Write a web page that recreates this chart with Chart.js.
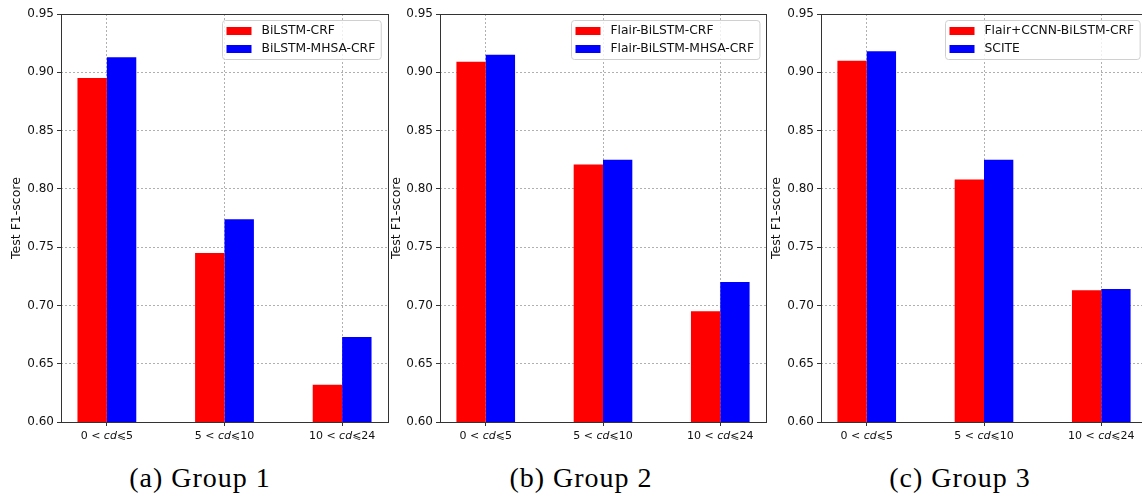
<!DOCTYPE html>
<html>
<head>
<meta charset="utf-8">
<script src="https://cdn.jsdelivr.net/npm/chart.js@4.4.0/dist/chart.umd.min.js"></script>
<style>
html, body { margin: 0; padding: 0; background: #fff; overflow: hidden; width: 1142px; height: 496px; }
.panel { position: absolute; top: 0; }
.caption { position: absolute; top: 461px; width: 300px; margin-left: -150px; text-align: center;
  font: 28px 'Liberation Serif', serif; letter-spacing: 1px; color: #000; line-height: 34px; }
</style>
</head>
<body>
<div class="panel" style="left:0px"><canvas id="c1" width="390" height="440"></canvas></div>
<div class="panel" style="left:380px"><canvas id="c2" width="390" height="440"></canvas></div>
<div class="panel" style="left:760px"><canvas id="c3" width="390" height="440"></canvas></div>
<div class="caption" id="cap1" style="left:200px"></div>
<div class="caption" id="cap2" style="left:581px"></div>
<div class="caption" id="cap3" style="left:960px"></div>
<script>
Chart.defaults.font.family = "'DejaVu Sans', sans-serif";
Chart.defaults.color = '#111';

// shared axis setup
var categories = ['0 < cd⩽5', '5 < cd⩽10', '10 < cd⩽24'];
var yMin = 0.60, yMax = 0.95, yStep = 0.05;
var yTitle = 'Test F1-score';
var captions = ['(a) Group 1', '(b) Group 2', '(c) Group 3'];

// group 1
var g1Names = ['BiLSTM-CRF', 'BiLSTM-MHSA-CRF'];
var g1Red = [0.895, 0.745, 0.632];
var g1Blue = [0.913, 0.774, 0.673];

// group 2
var g2Names = ['Flair-BiLSTM-CRF', 'Flair-BiLSTM-MHSA-CRF'];
var g2Red = [0.909, 0.821, 0.695];
var g2Blue = [0.915, 0.825, 0.720];

// group 3
var g3Names = ['Flair+CCNN-BiLSTM-CRF', 'SCITE'];
var g3Red = [0.910, 0.808, 0.713];
var g3Blue = [0.918, 0.825, 0.714];

var RED = '#ff0000', BLUE = '#0000ff';
var FRAME = '#333';
var GRID = '#b0b0b0';

// frame, italic x labels and an inside legend, drawn on top
var panelDecor = {
    id: 'panelDecor',
    afterDraw: function(chart) {
        var ctx = chart.ctx;
        var a = chart.chartArea;
        var xs = chart.scales.x;
        ctx.save();

        ctx.strokeStyle = FRAME;
        ctx.lineWidth = 1;
        ctx.strokeRect(Math.round(a.left) + 0.5, Math.round(a.top) + 0.5,
            Math.round(a.right - a.left), Math.round(a.bottom - a.top));

        // x tick labels with italic "cd"
        var normal = "11px 'DejaVu Sans', sans-serif";
        var italic = "italic 11px 'DejaVu Sans', sans-serif";
        ctx.fillStyle = '#111';
        ctx.textBaseline = 'middle';
        ctx.textAlign = 'left';
        categories.forEach(function(label, i) {
            var parts = label.split('cd');
            ctx.font = normal;
            var w0 = ctx.measureText(parts[0]).width;
            var w2 = ctx.measureText(parts[1]).width;
            ctx.font = italic;
            var w1 = ctx.measureText('cd').width;
            var x = xs.getPixelForValue(i) - (w0 + w1 + w2) / 2;
            var y = a.bottom + 14;
            ctx.font = normal;
            ctx.fillText(parts[0], x, y);
            ctx.font = italic;
            ctx.fillText('cd', x + w0, y);
            ctx.font = normal;
            ctx.fillText(parts[1], x + w0 + w1, y);
        });

        // legend in the upper right corner of the plot
        var ds = chart.data.datasets;
        ctx.font = "12.3px 'DejaVu Sans', sans-serif";
        var tw = 0;
        ds.forEach(function(d) { tw = Math.max(tw, ctx.measureText(d.label).width); });
        var boxW = 4 + 25 + 10 + tw + 6;
        var boxH = 39;
        var bx = Math.round(a.right - 7 - boxW) + 0.5;
        var by = Math.round(a.top + 6) + 0.5;
        ctx.beginPath();
        ctx.roundRect(bx, by, boxW, boxH, 3);
        ctx.fillStyle = 'rgba(255,255,255,0.8)';
        ctx.fill();
        ctx.strokeStyle = '#d0d0d0';
        ctx.stroke();
        ds.forEach(function(d, i) {
            var cy = by + 10.5 + i * 18;
            ctx.fillStyle = d.backgroundColor;
            ctx.fillRect(bx + 4, cy - 4, 25, 8);
            ctx.fillStyle = '#111';
            ctx.fillText(d.label, bx + 39, cy);
        });

        ctx.restore();
    }
};

function makePanel(id, names, redVals, blueVals, yAxisWidth, padRight) {
    var ctx = document.getElementById(id).getContext('2d');
    return new Chart(ctx, {
        type: 'bar',
        data: {
            datasets: [{
                label: names[0],
                data: redVals.map(function(v, i) { return { x: i, y: v }; }),
                backgroundColor: RED,
                borderWidth: 0
            }, {
                label: names[1],
                data: blueVals.map(function(v, i) { return { x: i, y: v }; }),
                backgroundColor: BLUE,
                borderWidth: 0
            }]
        },
        options: {
            responsive: false,
            animation: false,
            categoryPercentage: 0.5,
            barPercentage: 1.0,
            layout: { padding: { top: 14, right: padRight, left: 0, bottom: 0 } },
            plugins: {
                legend: { display: false },
                tooltip: { enabled: false }
            },
            scales: {
                x: {
                    type: 'linear',
                    min: -0.39,
                    max: 2.39,
                    offset: false,
                    afterBuildTicks: function(axis) {
                        axis.ticks = categories.map(function(c, i) { return { value: i }; });
                    },
                    afterFit: function(axis) { axis.height = 18; },
                    ticks: {
                        color: 'rgba(0,0,0,0)',
                        callback: function(v) { return categories[v] || ''; }
                    },
                    grid: {
                        offset: false,
                        color: GRID,
                        lineWidth: 1,
                        tickLength: 4,
                        tickColor: FRAME
                    },
                    border: { display: false, dash: [2, 2] }
                },
                y: {
                    min: yMin,
                    max: yMax,
                    afterFit: function(axis) { axis.width = yAxisWidth; },
                    ticks: {
                        stepSize: yStep,
                        padding: 3,
                        font: { size: 12 },
                        color: '#111',
                        callback: function(v) { return v.toFixed(2); }
                    },
                    grid: {
                        color: GRID,
                        lineWidth: 1,
                        tickLength: 4,
                        tickColor: FRAME
                    },
                    border: { display: false, dash: [2, 2] },
                    title: {
                        display: true,
                        text: yTitle,
                        color: '#111',
                        font: { size: 12.5 },
                        padding: { top: 9, bottom: 0 }
                    }
                }
            }
        },
        plugins: [panelDecor]
    });
}

makePanel('c1', g1Names, g1Red, g1Blue, 61, 2);
makePanel('c2', g2Names, g2Red, g2Blue, 60, 4);
makePanel('c3', g3Names, g3Red, g3Blue, 61, 3);

document.getElementById('cap1').textContent = captions[0];
document.getElementById('cap2').textContent = captions[1];
document.getElementById('cap3').textContent = captions[2];
</script>
</body>
</html>
